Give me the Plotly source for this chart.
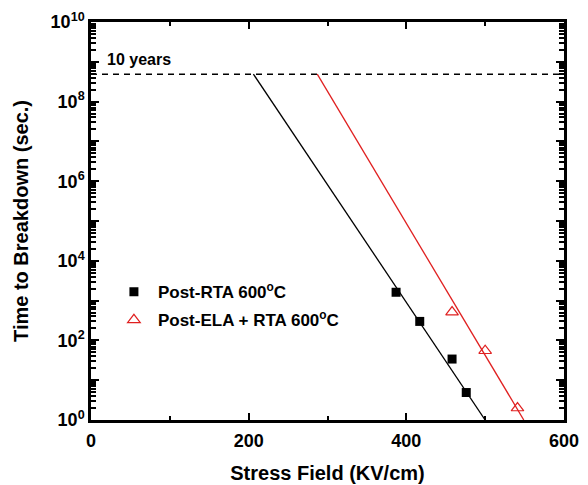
import plotly.graph_objects as go

# Data
rta_x = [387, 417, 458, 476]
rta_y = [1620, 300, 34, 4.9]
ela_x = [458, 500, 541]
ela_y = [515, 55, 2.0]

rta_fit_x = [206, 500]
rta_fit_y = [4.9e8, 1]
ela_fit_x = [287, 549]
ela_fit_y = [4.9e8, 1]

ten_years_y = 4.9e8
x_ticks = [0, 200, 400, 600]
y_ticks = [1e0, 1e2, 1e4, 1e6, 1e8, 1e10]
y_tick_text = ["10<sup>0</sup>", "10<sup>2</sup>", "10<sup>4</sup>", "10<sup>6</sup>",
               "10<sup>8</sup>", "10<sup>10</sup>"]

RED = "#e02020"
FONT = "Liberation Sans"

fig = go.Figure()

fig.add_trace(go.Scatter(x=[0, 600], y=[ten_years_y, ten_years_y], mode="lines",
                         line=dict(color="black", width=1.5, dash="6px,5px"),
                         showlegend=False, hoverinfo="skip"))
fig.add_trace(go.Scatter(x=rta_fit_x, y=rta_fit_y, mode="lines",
                         line=dict(color="black", width=1.3), showlegend=False))
fig.add_trace(go.Scatter(x=ela_fit_x, y=ela_fit_y, mode="lines",
                         line=dict(color=RED, width=1.3), showlegend=False))
fig.add_trace(go.Scatter(x=rta_x, y=rta_y, mode="markers", name="Post-RTA 600<sup>o</sup>C",
                         legendgroup="a",
                         marker=dict(symbol="square", size=9, color="black")))
fig.add_trace(go.Scatter(x=ela_x, y=ela_y, mode="markers", name="Post-ELA + RTA 600<sup>o</sup>C",
                         legendgroup="b",
                         marker=dict(symbol="triangle-up-open", size=11, color=RED,
                                     line=dict(width=1.2, color=RED))))

fig.add_annotation(x=0.03, xref="paper", y=9.05, yref="y", text="<b>10 years</b>",
                   showarrow=False, xanchor="left", yanchor="middle",
                   font=dict(family=FONT, size=16, color="black"))

fig.update_layout(
    xaxis=dict(range=[0, 600], tickmode="array", tickvals=x_ticks, ticks="inside",
               ticklen=7, tickwidth=2,
               tickcolor="black", showline=True, linewidth=2.5, linecolor="black",
               mirror="ticks", showgrid=False, zeroline=False, automargin=False,
               ticklabelstandoff=3,
               minor=dict(tickmode="linear", tick0=0, dtick=100, ticks="inside", ticklen=4,
                          tickwidth=2, tickcolor="black", showgrid=False),
               tickfont=dict(family=FONT, size=18, color="black", weight="bold"),
               title=dict(text="<b>Stress Field (KV/cm)</b>", standoff=16,
                          font=dict(family=FONT, size=20, color="black"))),
    yaxis=dict(type="log", range=[0, 10], tickmode="array",
               tickvals=[10 ** k for k in range(11)],
               ticktext=[y_tick_text[k // 2] if k % 2 == 0 else "" for k in range(11)],
               ticks="inside", ticklen=8, tickwidth=2, tickcolor="black",
               showline=True, linewidth=2.5, linecolor="black", mirror="ticks",
               showgrid=False, zeroline=False, automargin=False,
               minor=dict(tickmode="linear", dtick="D1", ticks="inside", ticklen=5,
                          tickwidth=1.5, tickcolor="black", showgrid=False),
               tickfont=dict(family=FONT, size=18, color="black", weight="bold"),
               title=dict(text="<b>Time to Breakdown (sec.)</b>", standoff=17,
                          font=dict(family=FONT, size=20, color="black"))),
)

fig.update_layout(width=580, height=477, margin=dict(l=83, r=24, t=14, b=65),
                  plot_bgcolor="white", paper_bgcolor="white",
                  font=dict(family=FONT, size=18, color="black"),
                  legend=dict(x=0.04, y=0.286, xanchor="left", yanchor="middle",
                              bgcolor="rgba(0,0,0,0)", traceorder="grouped",
                              tracegroupgap=3, itemwidth=38,
                              font=dict(family=FONT, size=17, color="black", weight="bold")))

fig.write_html("out.html")
